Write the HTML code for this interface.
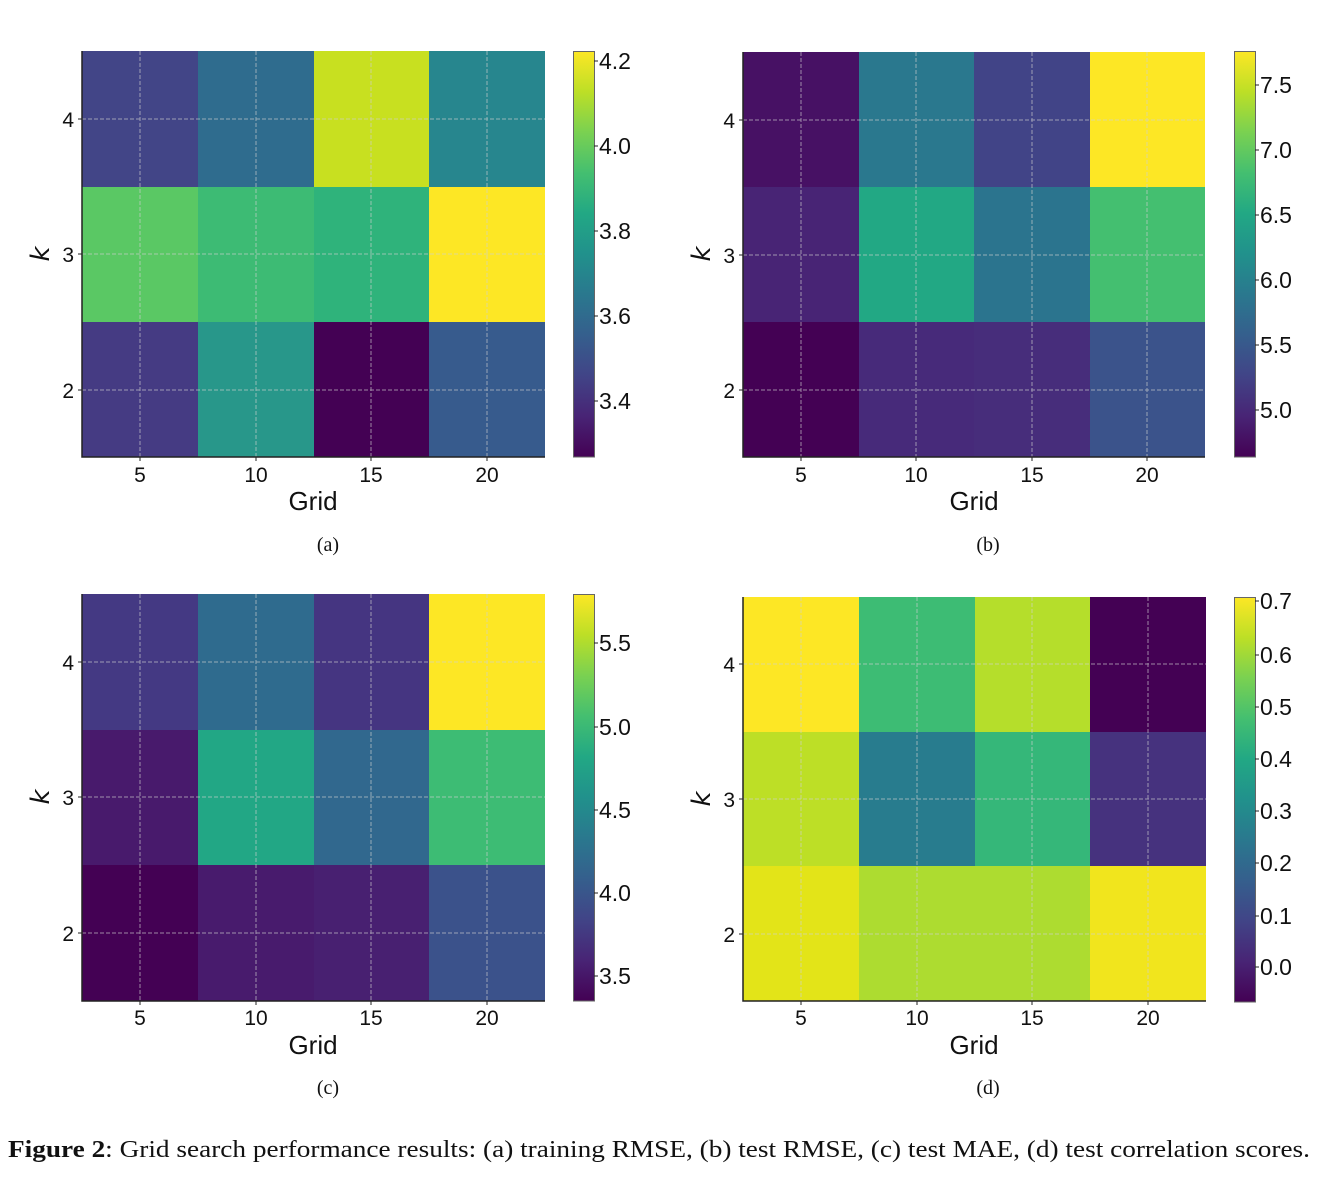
<!DOCTYPE html>
<html>
<head>
<meta charset="utf-8">
<style>
html,body{margin:0;padding:0;background:#fff;}
svg{display:block;}
.t{font-family:"Liberation Sans",Arial,sans-serif;font-size:21px;fill:#111;}
.cb{font-family:"Liberation Sans",Arial,sans-serif;font-size:23px;fill:#111;}
.lab{font-family:"Liberation Sans",Arial,sans-serif;font-size:26px;fill:#111;}
.k{font-family:"DejaVu Sans",sans-serif;font-style:italic;font-size:26px;fill:#111;}
.sub{font-family:"Liberation Serif","Times New Roman",serif;font-size:20px;fill:#111;}
.cap{font-family:"Liberation Serif","Times New Roman",serif;font-size:24px;fill:#111;}
.g{stroke:#d0d0d0;stroke-opacity:0.65;stroke-width:1;stroke-dasharray:4,2;fill:none;}
.sp{stroke:#222;stroke-width:1.5;fill:none;}
.tk{stroke:#222;stroke-width:1;}
.cbo{fill:none;stroke:#666;stroke-width:1;}
</style>
</head>
<body>
<svg width="1338" height="1187" viewBox="0 0 1338 1187" xmlns="http://www.w3.org/2000/svg">
<defs>
<linearGradient id="vir" x1="0" y1="1" x2="0" y2="0">
<stop offset="0" stop-color="#440154"/>
<stop offset="0.1" stop-color="#482475"/>
<stop offset="0.2" stop-color="#414487"/>
<stop offset="0.3" stop-color="#355f8d"/>
<stop offset="0.4" stop-color="#2a788e"/>
<stop offset="0.5" stop-color="#21918c"/>
<stop offset="0.6" stop-color="#22a884"/>
<stop offset="0.7" stop-color="#44bf70"/>
<stop offset="0.8" stop-color="#7ad151"/>
<stop offset="0.9" stop-color="#bddf26"/>
<stop offset="1" stop-color="#fde725"/>
</linearGradient>
</defs>

<!-- ================= Panel A ================= -->
<g shape-rendering="crispEdges">
<rect x="82" y="51" width="116" height="136" fill="#424587"/>
<rect x="198" y="51" width="116" height="136" fill="#2f6c8e"/>
<rect x="314" y="51" width="115" height="136" fill="#c8e020"/>
<rect x="429" y="51" width="116" height="136" fill="#27868e"/>
<rect x="82" y="187" width="116" height="135" fill="#5ac864"/>
<rect x="198" y="187" width="116" height="135" fill="#3dbb74"/>
<rect x="314" y="187" width="115" height="135" fill="#2fb37b"/>
<rect x="429" y="187" width="116" height="135" fill="#fde725"/>
<rect x="82" y="322" width="116" height="135" fill="#453b83"/>
<rect x="198" y="322" width="116" height="135" fill="#28978a"/>
<rect x="314" y="322" width="115" height="135" fill="#440154"/>
<rect x="429" y="322" width="116" height="135" fill="#375b8d"/>
</g>
<path class="g" d="M140,51V457M256,51V457M371,51V457M487,51V457M82,119H545M82,254H545M82,390H545"/>
<path class="sp" d="M82,51V457H545"/>
<path class="tk" d="M78,119H82M78,254H82M78,390H82M140,457V461M256,457V461M371,457V461M487,457V461"/>
<text class="t" x="74" y="127" text-anchor="end">4</text>
<text class="t" x="74" y="262" text-anchor="end">3</text>
<text class="t" x="74" y="398" text-anchor="end">2</text>
<text class="t" x="140" y="482" text-anchor="middle">5</text>
<text class="t" x="256" y="482" text-anchor="middle">10</text>
<text class="t" x="371" y="482" text-anchor="middle">15</text>
<text class="t" x="487" y="482" text-anchor="middle">20</text>
<text class="lab" x="313" y="510" text-anchor="middle">Grid</text>
<text class="k" transform="translate(49,254) rotate(-90)" text-anchor="middle">k</text>
<text class="sub" x="328" y="551" text-anchor="middle">(a)</text>
<rect x="573" y="51" width="21" height="406" fill="url(#vir)"/>
<rect class="cbo" x="573.5" y="51.5" width="21" height="405.5"/>
<path class="tk" d="M594,61H598M594,146H598M594,231H598M594,316H598M594,401H598"/>
<text class="cb" x="599" y="69">4.2</text>
<text class="cb" x="599" y="154">4.0</text>
<text class="cb" x="599" y="239">3.8</text>
<text class="cb" x="599" y="324">3.6</text>
<text class="cb" x="599" y="409">3.4</text>

<!-- ================= Panel B ================= -->
<g shape-rendering="crispEdges">
<rect x="743" y="52" width="116" height="135" fill="#471164"/>
<rect x="859" y="52" width="115" height="135" fill="#2a788e"/>
<rect x="974" y="52" width="116" height="135" fill="#414487"/>
<rect x="1090" y="52" width="115" height="135" fill="#fde725"/>
<rect x="743" y="187" width="116" height="135" fill="#482475"/>
<rect x="859" y="187" width="115" height="135" fill="#22a884"/>
<rect x="974" y="187" width="116" height="135" fill="#2b748e"/>
<rect x="1090" y="187" width="115" height="135" fill="#44bf70"/>
<rect x="743" y="322" width="116" height="135" fill="#440154"/>
<rect x="859" y="322" width="115" height="135" fill="#472a7a"/>
<rect x="974" y="322" width="116" height="135" fill="#472d7b"/>
<rect x="1090" y="322" width="115" height="135" fill="#3b538b"/>
</g>
<path class="g" d="M801,52V457M916,52V457M1032,52V457M1147,52V457M743,120H1205M743,255H1205M743,390H1205"/>
<path class="sp" d="M743,52V457H1205"/>
<path class="tk" d="M739,120H743M739,255H743M739,390H743M801,457V461M916,457V461M1032,457V461M1147,457V461"/>
<text class="t" x="735" y="128" text-anchor="end">4</text>
<text class="t" x="735" y="263" text-anchor="end">3</text>
<text class="t" x="735" y="398" text-anchor="end">2</text>
<text class="t" x="801" y="482" text-anchor="middle">5</text>
<text class="t" x="916" y="482" text-anchor="middle">10</text>
<text class="t" x="1032" y="482" text-anchor="middle">15</text>
<text class="t" x="1147" y="482" text-anchor="middle">20</text>
<text class="lab" x="974" y="510" text-anchor="middle">Grid</text>
<text class="k" transform="translate(710,254) rotate(-90)" text-anchor="middle">k</text>
<text class="sub" x="988" y="551" text-anchor="middle">(b)</text>
<rect x="1234" y="51" width="21" height="406" fill="url(#vir)"/>
<rect class="cbo" x="1234.5" y="51.5" width="21" height="405.5"/>
<path class="tk" d="M1255,85H1259M1255,150H1259M1255,215H1259M1255,280H1259M1255,345H1259M1255,410H1259"/>
<text class="cb" x="1260" y="93">7.5</text>
<text class="cb" x="1260" y="158">7.0</text>
<text class="cb" x="1260" y="223">6.5</text>
<text class="cb" x="1260" y="288">6.0</text>
<text class="cb" x="1260" y="353">5.5</text>
<text class="cb" x="1260" y="418">5.0</text>

<!-- ================= Panel C ================= -->
<g shape-rendering="crispEdges">
<rect x="82" y="594" width="116" height="136" fill="#443983"/>
<rect x="198" y="594" width="116" height="136" fill="#2f6b8e"/>
<rect x="314" y="594" width="115" height="136" fill="#453581"/>
<rect x="429" y="594" width="116" height="136" fill="#fde725"/>
<rect x="82" y="730" width="116" height="135" fill="#481a6c"/>
<rect x="198" y="730" width="116" height="135" fill="#22a785"/>
<rect x="314" y="730" width="115" height="135" fill="#31688e"/>
<rect x="429" y="730" width="116" height="135" fill="#3dbc74"/>
<rect x="82" y="865" width="116" height="136" fill="#440154"/>
<rect x="198" y="865" width="116" height="136" fill="#481b6d"/>
<rect x="314" y="865" width="115" height="136" fill="#482071"/>
<rect x="429" y="865" width="116" height="136" fill="#3b528b"/>
</g>
<path class="g" d="M140,594V1001M256,594V1001M371,594V1001M487,594V1001M82,662H545M82,797H545M82,933H545"/>
<path class="sp" d="M82,594V1001H545"/>
<path class="tk" d="M78,662H82M78,797H82M78,933H82M140,1001V1005M256,1001V1005M371,1001V1005M487,1001V1005"/>
<text class="t" x="74" y="670" text-anchor="end">4</text>
<text class="t" x="74" y="805" text-anchor="end">3</text>
<text class="t" x="74" y="941" text-anchor="end">2</text>
<text class="t" x="140" y="1025" text-anchor="middle">5</text>
<text class="t" x="256" y="1025" text-anchor="middle">10</text>
<text class="t" x="371" y="1025" text-anchor="middle">15</text>
<text class="t" x="487" y="1025" text-anchor="middle">20</text>
<text class="lab" x="313" y="1054" text-anchor="middle">Grid</text>
<text class="k" transform="translate(49,797) rotate(-90)" text-anchor="middle">k</text>
<text class="sub" x="328" y="1094" text-anchor="middle">(c)</text>
<rect x="573" y="594" width="21" height="407" fill="url(#vir)"/>
<rect class="cbo" x="573.5" y="594.5" width="21" height="406.5"/>
<path class="tk" d="M594,643H598M594,727H598M594,810H598M594,893H598M594,976H598"/>
<text class="cb" x="599" y="651">5.5</text>
<text class="cb" x="599" y="735">5.0</text>
<text class="cb" x="599" y="818">4.5</text>
<text class="cb" x="599" y="901">4.0</text>
<text class="cb" x="599" y="984">3.5</text>

<!-- ================= Panel D ================= -->
<g shape-rendering="crispEdges">
<rect x="743" y="597" width="116" height="135" fill="#fde725"/>
<rect x="859" y="597" width="116" height="135" fill="#3dbc74"/>
<rect x="975" y="597" width="115" height="135" fill="#b5de2b"/>
<rect x="1090" y="597" width="116" height="135" fill="#440154"/>
<rect x="743" y="732" width="116" height="134" fill="#bddf26"/>
<rect x="859" y="732" width="116" height="134" fill="#287c8e"/>
<rect x="975" y="732" width="115" height="134" fill="#35b779"/>
<rect x="1090" y="732" width="116" height="134" fill="#46327e"/>
<rect x="743" y="866" width="116" height="135" fill="#e3e418"/>
<rect x="859" y="866" width="116" height="135" fill="#addc30"/>
<rect x="975" y="866" width="115" height="135" fill="#addc30"/>
<rect x="1090" y="866" width="116" height="135" fill="#f1e51d"/>
</g>
<path class="g" d="M801,597V1001M917,597V1001M1032,597V1001M1148,597V1001M743,664H1206M743,799H1206M743,934H1206"/>
<path class="sp" d="M743,597V1001H1206"/>
<path class="tk" d="M739,664H743M739,799H743M739,934H743M801,1001V1005M917,1001V1005M1032,1001V1005M1148,1001V1005"/>
<text class="t" x="735" y="672" text-anchor="end">4</text>
<text class="t" x="735" y="807" text-anchor="end">3</text>
<text class="t" x="735" y="942" text-anchor="end">2</text>
<text class="t" x="801" y="1025" text-anchor="middle">5</text>
<text class="t" x="917" y="1025" text-anchor="middle">10</text>
<text class="t" x="1032" y="1025" text-anchor="middle">15</text>
<text class="t" x="1148" y="1025" text-anchor="middle">20</text>
<text class="lab" x="974" y="1054" text-anchor="middle">Grid</text>
<text class="k" transform="translate(710,799) rotate(-90)" text-anchor="middle">k</text>
<text class="sub" x="988" y="1094" text-anchor="middle">(d)</text>
<rect x="1234" y="597" width="21" height="405" fill="url(#vir)"/>
<rect class="cbo" x="1234.5" y="597.5" width="21" height="404.5"/>
<path class="tk" d="M1255,601H1259M1255,655H1259M1255,707H1259M1255,759H1259M1255,811H1259M1255,863H1259M1255,916H1259M1255,967H1259"/>
<text class="cb" x="1260" y="609">0.7</text>
<text class="cb" x="1260" y="663">0.6</text>
<text class="cb" x="1260" y="715">0.5</text>
<text class="cb" x="1260" y="767">0.4</text>
<text class="cb" x="1260" y="819">0.3</text>
<text class="cb" x="1260" y="871">0.2</text>
<text class="cb" x="1260" y="924">0.1</text>
<text class="cb" x="1260" y="975">0.0</text>

<!-- ================= Caption ================= -->
<text class="cap" x="8" y="1157" textLength="1302" lengthAdjust="spacingAndGlyphs"><tspan font-weight="bold">Figure 2</tspan>: Grid search performance results: (a) training RMSE, (b) test RMSE, (c) test MAE, (d) test correlation scores.</text>
</svg>
</body>
</html>
